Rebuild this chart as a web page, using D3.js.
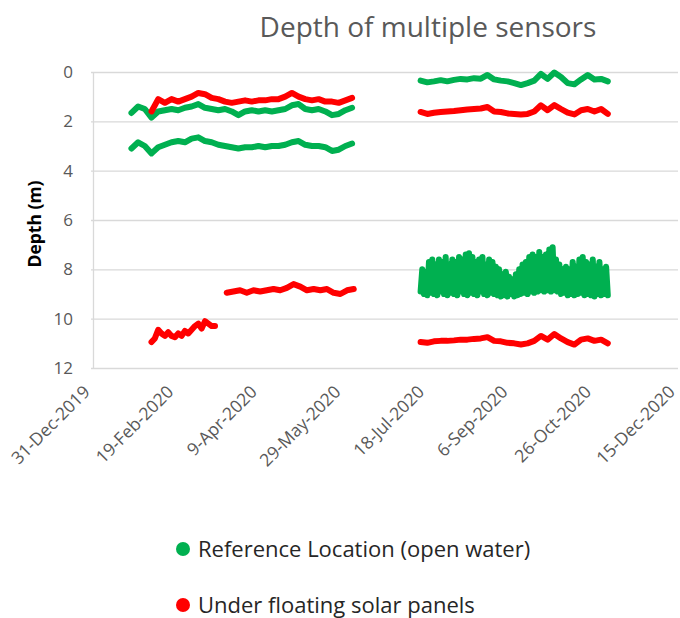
<!DOCTYPE html>
<html>
<head>
  <meta charset="utf-8"/>
  <title>Depth of multiple sensors</title>
  <style>
    body { margin: 0; background: #fff; }
    text { font-family: "Open Sans", sans-serif; }
  </style>
  <script src="https://d3js.org/d3.v7.min.js"></script>
</head>
<body>
<div id="chart"></div>
<script>
// depth readings (m), one value every `step` days from the given start date
var refShallowLeft = [1.66, 1.4, 1.5, 1.85, 1.6, 1.55, 1.5, 1.55, 1.45, 1.4, 1.3, 1.45, 1.5, 1.55, 1.5, 1.6, 1.75,
  1.6, 1.55, 1.6, 1.55, 1.6, 1.55, 1.5, 1.35, 1.3, 1.5, 1.55, 1.5, 1.6, 1.75, 1.7, 1.55, 1.45];
var refDeepLeft = [3.1, 2.85, 3.0, 3.3, 3.05, 2.95, 2.85, 2.8, 2.85, 2.7, 2.65, 2.8, 2.85, 2.95, 3.0, 3.05, 3.1,
  3.05, 3.05, 3.0, 3.05, 3.0, 3.0, 2.95, 2.85, 2.8, 2.95, 3.0, 3.0, 3.05, 3.2, 3.15, 3.0, 2.9];
var fpvShallowLeft = [1.6, 1.1, 1.25, 1.1, 1.2, 1.1, 1.0, 0.85, 0.9, 1.05, 1.1, 1.2, 1.25, 1.2, 1.15, 1.2,
  1.15, 1.15, 1.1, 1.1, 1.0, 0.85, 1.0, 1.1, 1.15, 1.1, 1.2, 1.2, 1.25, 1.15, 1.05];
var fpvDeepEarly = [10.95, 10.8, 10.45, 10.6, 10.7, 10.55, 10.7, 10.75, 10.6, 10.7, 10.5, 10.6, 10.45, 10.3,
  10.2, 10.4, 10.1, 10.2, 10.3, 10.3];
var fpvMidLeft = [8.95, 8.9, 8.85, 8.95, 8.85, 8.9, 8.85, 8.8, 8.85, 8.75, 8.6, 8.7, 8.85, 8.8, 8.85, 8.8,
  8.95, 9.0, 8.85, 8.8];
var refShallowRight = [0.35, 0.42, 0.38, 0.33, 0.38, 0.32, 0.28, 0.3, 0.25, 0.27, 0.12, 0.3, 0.35, 0.38, 0.45,
  0.53, 0.45, 0.35, 0.08, 0.28, 0.02, 0.2, 0.45, 0.5, 0.3, 0.12, 0.3, 0.28, 0.38];
var fpvShallowRight = [1.62, 1.7, 1.65, 1.62, 1.6, 1.58, 1.55, 1.52, 1.5, 1.48, 1.42, 1.6, 1.62, 1.68, 1.7,
  1.72, 1.7, 1.6, 1.35, 1.55, 1.34, 1.5, 1.65, 1.72, 1.55, 1.5, 1.6, 1.5, 1.7];
var refDeepRight = [
  8.9, 8.0, 9.0, 8.1, 9.05, 7.7, 8.95, 7.6, 9.0, 7.8,
  9.05, 7.6, 8.9, 7.7, 9.0, 7.5, 9.05, 7.8, 8.95, 7.6,
  9.0, 7.7, 9.05, 7.5, 8.9, 7.6, 9.0, 7.4, 9.05, 7.35,
  8.95, 7.5, 9.0, 7.7, 9.05, 7.6, 8.9, 7.5, 9.0, 7.8,
  9.05, 7.6, 8.95, 7.7, 9.0, 7.9, 9.05, 8.0, 9.1, 8.2,
  9.05, 8.1, 9.1, 8.3, 9.0, 8.4, 9.1, 8.2, 9.05, 8.0,
  9.0, 7.8, 8.95, 7.7, 9.0, 7.5, 8.9, 7.4, 8.95, 7.5,
  8.9, 7.3, 8.85, 7.5, 8.9, 7.4, 8.85, 7.2, 8.9, 7.1,
  8.85, 7.6, 8.9, 7.8, 9.0, 8.0, 8.95, 7.9, 9.05, 8.0,
  9.0, 7.7, 9.05, 7.9, 9.0, 7.6, 8.95, 7.5, 9.05, 7.7,
  9.0, 7.8, 9.05, 7.6, 9.1, 7.9, 9.0, 7.7, 9.05, 8.0,
  9.0, 7.9, 9.05];
var fpvDeepRight = [10.95, 10.98, 10.92, 10.9, 10.9, 10.88, 10.85, 10.85, 10.82, 10.8, 10.75, 10.9, 10.92,
  10.98, 11.0, 11.05, 11.0, 10.9, 10.7, 10.85, 10.62, 10.8, 10.95, 11.05, 10.85, 10.8, 10.9, 10.85, 11.0];

var tickDates = ["2019-12-31", "2020-02-19", "2020-04-09", "2020-05-29", "2020-07-18", "2020-09-06", "2020-10-26", "2020-12-15"];
var depthTicks = [0, 2, 4, 6, 8, 10, 12];
var legendNames = ["Reference Location (open water)", "Under floating solar panels"];

var green = "#00b050", red = "#ff0000";
var series = [
  { values: refShallowLeft, start: "2020-01-23", step: 4, color: green },
  { values: refDeepLeft, start: "2020-01-23", step: 4, color: green },
  { values: fpvShallowLeft, start: "2020-02-04", step: 4, color: red },
  { values: fpvDeepEarly, start: "2020-02-04", step: 2, color: red },
  { values: fpvMidLeft, start: "2020-03-20", step: 4, color: red },
  { values: refShallowRight, start: "2020-07-14", step: 4, color: green },
  { values: fpvShallowRight, start: "2020-07-14", step: 4, color: red },
  { values: refDeepRight, start: "2020-07-14", step: 1, color: green },
  { values: fpvDeepRight, start: "2020-07-14", step: 4, color: red }
];

var width = 680, height = 618;
var parse = d3.timeParse("%Y-%m-%d");
var fmt = d3.timeFormat("%-d-%b-%Y");

var svg = d3.select("#chart").append("svg")
  .attr("width", width)
  .attr("height", height);

var x = d3.scaleTime()
  .domain([parse(tickDates[0]), parse(tickDates[tickDates.length - 1])])
  .range([93, 678]);
var y = d3.scaleLinear().domain([0, 12]).range([72, 368]);

// title
svg.append("text")
  .attr("x", 428).attr("y", 37)
  .attr("text-anchor", "middle")
  .style("font-size", "28px")
  .style("fill", "#595959")
  .text("Depth of multiple sensors");

// gridlines
svg.selectAll(".grid").data(depthTicks).enter().append("line")
  .attr("x1", 91).attr("x2", 678)
  .attr("y1", function(d) { return y(d) + 0.5; })
  .attr("y2", function(d) { return y(d) + 0.5; })
  .style("stroke", "#d9d9d9").style("stroke-width", 1.3);
svg.append("line")
  .attr("x1", 93.5).attr("x2", 93.5).attr("y1", y(0)).attr("y2", y(12))
  .style("stroke", "#d9d9d9").style("stroke-width", 1.3);

// y labels
svg.selectAll(".ylab").data(depthTicks).enter().append("text")
  .attr("x", 73).attr("y", function(d) { return y(d); })
  .attr("dy", "0.35em")
  .attr("text-anchor", "end")
  .style("font-size", "17px")
  .style("fill", "#595959")
  .text(function(d) { return d; });

svg.append("text")
  .attr("transform", "translate(41,224) rotate(-90)")
  .attr("text-anchor", "middle")
  .style("font-size", "17.5px")
  .style("font-weight", "bold")
  .style("fill", "#000")
  .text("Depth (m)");

// x labels
svg.selectAll(".xlab").data(tickDates).enter().append("text")
  .attr("transform", function(d) { return "translate(" + (x(parse(d)) - 2) + ",393) rotate(-45)"; })
  .attr("text-anchor", "end")
  .style("font-size", "17.5px")
  .style("fill", "#595959")
  .text(function(d) { return fmt(parse(d)); });

// data
var line = d3.line()
  .x(function(d) { return x(d.date); })
  .y(function(d) { return y(d.v); });

series.forEach(function(s) {
  var pts = s.values.map(function(v, i) {
    return { date: d3.timeDay.offset(parse(s.start), i * s.step), v: v };
  });
  svg.append("path")
    .datum(pts)
    .attr("d", line)
    .style("fill", "none")
    .style("stroke", s.color)
    .style("stroke-width", 6)
    .style("stroke-linejoin", "round")
    .style("stroke-linecap", "round");
});

// legend
var legend = svg.selectAll(".leg").data(legendNames).enter().append("g")
  .attr("transform", function(d, i) { return "translate(183," + (549 + i * 56) + ")"; });
legend.append("circle").attr("r", 7)
  .style("fill", function(d, i) { return i == 0 ? green : red; });
legend.append("text")
  .attr("x", 15).attr("y", 7.5)
  .style("font-size", "22px")
  .style("fill", "#262626")
  .text(function(d) { return d; });
</script>
</body>
</html>
